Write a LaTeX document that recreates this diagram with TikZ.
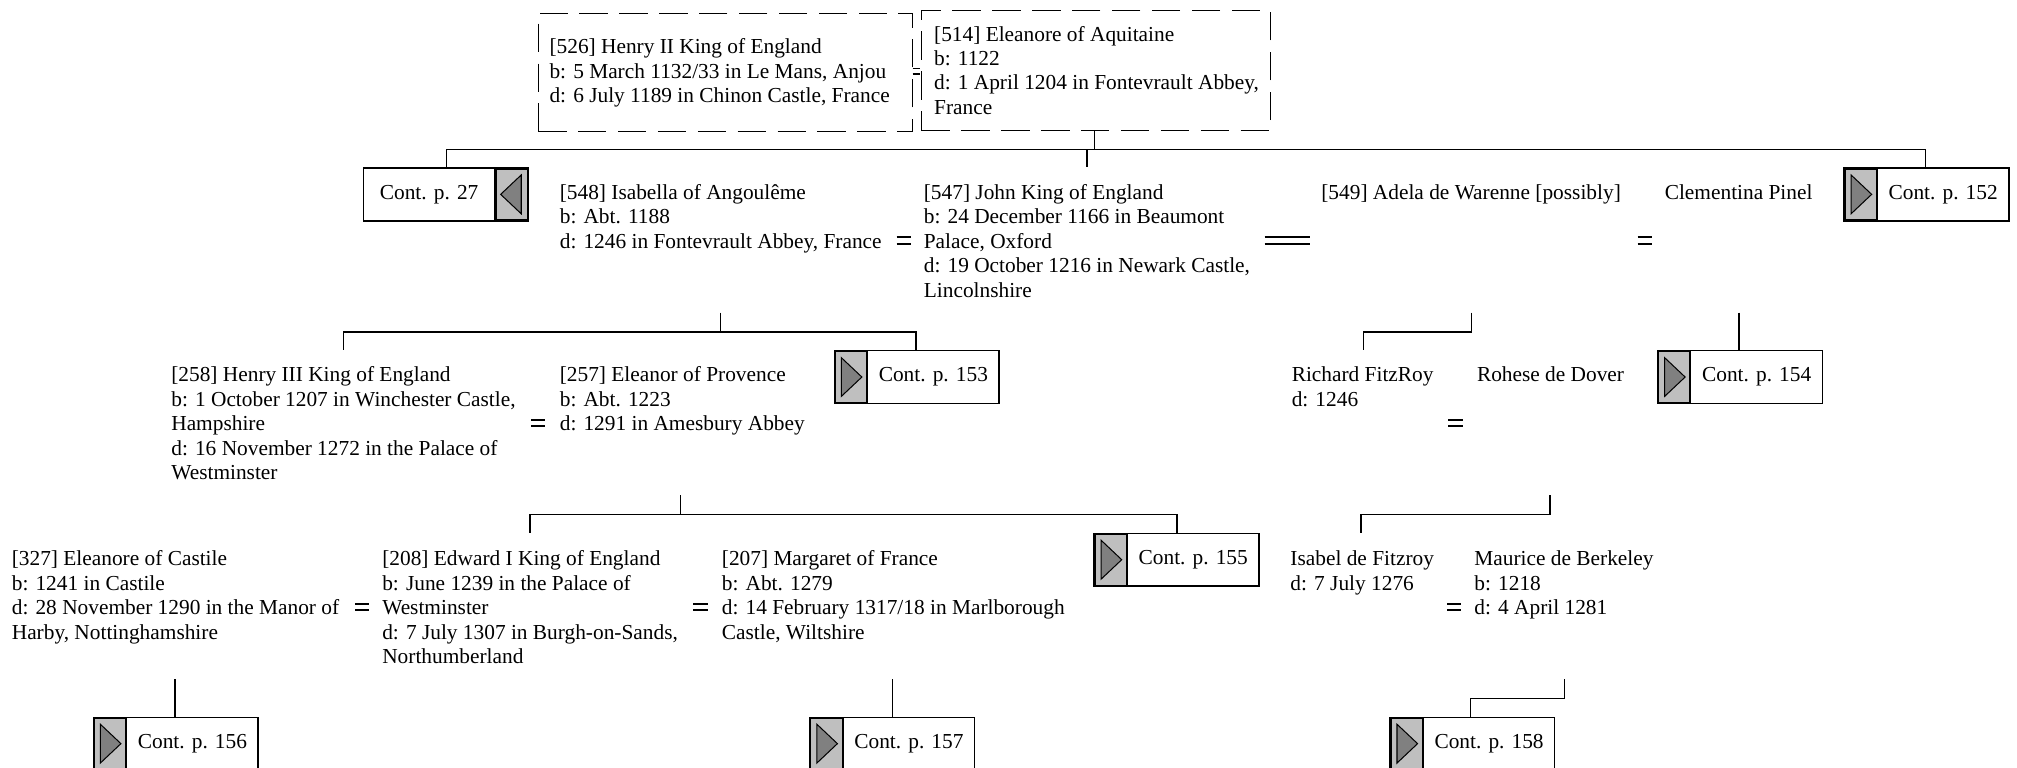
\documentclass[tikz,border=0pt]{standalone}
\usepackage{fontspec}
\setmainfont{Liberation Serif}
\newcommand\pfont{\fontsize{16.6}{19}\selectfont}
\tikzset{
  person/.style={anchor=north west, inner sep=0pt, align=left, font=\pfont},
  dashbox/.style={draw, line width=0.9pt, dash pattern=on 22pt off 9pt, anchor=north west, inner sep=0pt},
  contbox/.style={draw, line width=1.2pt, fill=white, minimum width=128pt, minimum height=41pt, inner sep=0pt, anchor=north west},
  graypart/.style={draw, line width=1.6pt, fill=gray!50},
  tri/.style={draw, line width=0.8pt, fill=gray, line join=miter},
  conn/.style={line width=1.1pt},
  eq/.style={line width=1.5pt},
}
% continuation box, grey part on the left, triangle pointing right
\newcommand\contleft[4]{%
  \node[contbox] (#1) at (#2,#3) {};
  \draw[graypart] ([shift={(1,1)}]#1.north west) rectangle ([shift={(26,-1)}]#1.south west);
  \draw[tri] ([shift={(6,6)}]#1.north west) -- ([shift={(22,0)}]#1.west) -- ([shift={(6,-6)}]#1.south west) -- cycle;
  \node[font=\pfont, inner sep=0pt] (#1t) at ([xshift=13pt]#1.center) {#4};
}
% continuation box, grey part on the right, triangle pointing left
\newcommand\contright[4]{%
  \node[contbox] (#1) at (#2,#3) {};
  \draw[graypart] ([shift={(-26,1)}]#1.north east) rectangle ([shift={(-1,-1)}]#1.south east);
  \draw[tri] ([shift={(-6,6)}]#1.north east) -- ([shift={(-22,0)}]#1.east) -- ([shift={(-6,-6)}]#1.south east) -- cycle;
  \node[font=\pfont, inner sep=0pt] (#1t) at ([xshift=-13pt]#1.center) {#4};
}
\begin{document}
\begin{tikzpicture}[x=1pt,y=-1pt]
\useasboundingbox (0,0) rectangle (1568,597);

% ---- top couple ----
\node[dashbox, minimum width=291pt, minimum height=92pt] (h2box) at (418,10) {};
\node[dashbox, minimum width=271pt, minimum height=93pt] (e1box) at (716,8) {};
\node[person] (henry2) at (427,30) {[526] Henry II King of England\\b: 5 March 1132/33 in Le Mans, Anjou\\d: 6 July 1189 in Chinon Castle, France};
\node[person] (eleanoreA) at (726,20) {[514] Eleanore of Aquitaine\\b: 1122\\d: 1 April 1204 in Fontevrault Abbey,\\France};
\draw[line width=0.9pt] (709.5,53) -- (715.5,53) (709.5,57.5) -- (715.5,57.5);

% ---- row 2 ----
\contright{c27}{282}{130}{Cont. p. 27}
\node[person] (isabella) at (435,143) {[548] Isabella of Angoul\^eme\\b: Abt. 1188\\d: 1246 in Fontevrault Abbey, France};
\node[person] (john) at (718,143) {[547] John King of England\\b: 24 December 1166 in Beaumont\\Palace, Oxford\\d: 19 October 1216 in Newark Castle,\\Lincolnshire};
\node[person] (adela) at (1027,143) {[549] Adela de Warenne [possibly]};
\node[person] (clementina) at (1294,143) {Clementina Pinel};
\contleft{c152}{1433}{130}{Cont. p. 152}
\draw[eq] (697,184.6) -- (708,184.6) (697,189.4) -- (708,189.4);
\draw[eq] (983,184.6) -- (1018,184.6) (983,189.4) -- (1018,189.4);
\draw[eq] (1273,184.6) -- (1284,184.6) (1273,189.4) -- (1284,189.4);

% ---- row 3 ----
\node[person] (henry3) at (133,285) {[258] Henry III King of England\\b: 1 October 1207 in Winchester Castle,\\Hampshire\\d: 16 November 1272 in the Palace of\\Westminster};
\node[person] (eleanorP) at (435,285) {[257] Eleanor of Provence\\b: Abt. 1223\\d: 1291 in Amesbury Abbey};
\contleft{c153}{648}{272}{Cont. p. 153}
\node[person] (richard) at (1004,285) {Richard FitzRoy\\d: 1246};
\node[person] (rohese) at (1148,285) {Rohese de Dover};
\contleft{c154}{1288}{272}{Cont. p. 154}
\draw[eq] (413,326.6) -- (424,326.6) (413,331.4) -- (424,331.4);
\draw[eq] (1126,326.6) -- (1137,326.6) (1126,331.4) -- (1137,331.4);

% ---- row 4 ----
\node[person] (eleanoreC) at (9,428) {[327] Eleanore of Castile\\b: 1241 in Castile\\d: 28 November 1290 in the Manor of\\Harby, Nottinghamshire};
\node[person] (edward) at (297,428) {[208] Edward I King of England\\b: June 1239 in the Palace of\\Westminster\\d: 7 July 1307 in Burgh-on-Sands,\\Northumberland};
\node[person] (margaret) at (561,428) {[207] Margaret of France\\b: Abt. 1279\\d: 14 February 1317/18 in Marlborough\\Castle, Wiltshire};
\contleft{c155}{850}{414}{Cont. p. 155}
\node[person] (isabel) at (1003,428) {Isabel de Fitzroy\\d: 7 July 1276};
\node[person] (maurice) at (1146,428) {Maurice de Berkeley\\b: 1218\\d: 4 April 1281};
\draw[eq] (276,469.6) -- (287,469.6) (276,474.4) -- (287,474.4);
\draw[eq] (539,469.6) -- (550,469.6) (539,474.4) -- (550,474.4);
\draw[eq] (1125,469.6) -- (1136,469.6) (1125,474.4) -- (1136,474.4);

% ---- row 5 ----
\contleft{c156}{72}{557}{Cont. p. 156}
\contleft{c157}{629}{557}{Cont. p. 157}
\contleft{c158}{1080}{557}{Cont. p. 158}

% ---- connectors ----
\coordinate (t0) at (851,116);
\coordinate (tL) at (347,116);
\coordinate (tR) at (1497,116);
\coordinate (tJ) at (845,116);
\coordinate (tJd) at (845,130);
\draw[conn] (e1box.south -| t0) -- (t0);
\draw[conn] (c27.north -| tL) -- (tL) -- (tR) -- (c152.north -| tR);
\draw[conn] (tJ) -- (tJd);

\coordinate (a1) at (560,243);
\coordinate (a2) at (560,258);
\coordinate (a3) at (267,258);
\coordinate (a4) at (267,272);
\coordinate (a5) at (712,258);
\draw[conn] (a1) -- (a2);
\draw[conn] (a4) -- (a3) -- (a5) -- (c153.north -| a5);

\coordinate (b1) at (1144,243);
\coordinate (b2) at (1144,258);
\coordinate (b3) at (1060,258);
\coordinate (b4) at (1060,272);
\draw[conn] (b1) -- (b2) -- (b3) -- (b4);

\coordinate (d1) at (1352,243);
\draw[conn] (d1) -- (c154.north -| d1);

\coordinate (e1) at (529,385);
\coordinate (e2) at (529,400);
\coordinate (e3) at (412,400);
\coordinate (e4) at (412,414);
\coordinate (e5) at (915,400);
\draw[conn] (e1) -- (e2);
\draw[conn] (e4) -- (e3) -- (e5) -- (c155.north -| e5);

\coordinate (f1) at (1205,385);
\coordinate (f2) at (1205,400);
\coordinate (f3) at (1058,400);
\coordinate (f4) at (1058,414);
\draw[conn] (f1) -- (f2) -- (f3) -- (f4);

\coordinate (g1) at (136,528);
\draw[conn] (g1) -- (c156.north -| g1);
\coordinate (h1) at (694,528);
\draw[conn] (h1) -- (c157.north -| h1);
\coordinate (k1) at (1216,528);
\coordinate (k2) at (1216,543);
\coordinate (k3) at (1143,543);
\draw[conn] (k1) -- (k2) -- (k3) -- (c158.north -| k3);
\end{tikzpicture}
\end{document}
